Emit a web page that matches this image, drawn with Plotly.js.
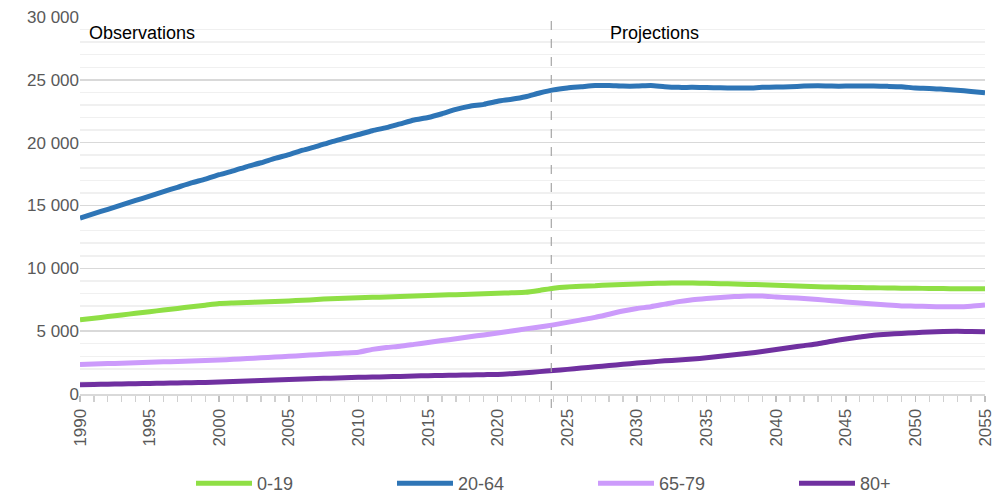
<!DOCTYPE html>
<html>
<head>
<meta charset="utf-8">
<script src="https://cdn.plot.ly/plotly-3.0.1.min.js"></script>
<style>html,body{margin:0;padding:0;background:#fff;}#chart{width:995px;height:498px;}</style>
</head>
<body>
<div id="chart"></div>
<script>
const years = [1990,1991,1992,1993,1994,1995,1996,1997,1998,1999,2000,2001,2002,2003,2004,2005,2006,2007,2008,2009,2010,2011,2012,2013,2014,2015,2016,2017,2018,2019,2020,2021,2022,2023,2024,2025,2026,2027,2028,2029,2030,2031,2032,2033,2034,2035,2036,2037,2038,2039,2040,2041,2042,2043,2044,2045,2046,2047,2048,2049,2050,2051,2052,2053,2054,2055];

const age0_19 = [5900,6030,6160,6290,6420,6550,6680,6810,6940,7070,7200,7250,7290,7330,7370,7410,7460,7520,7580,7620,7660,7690,7720,7760,7800,7830,7880,7900,7930,7980,8020,8050,8090,8240,8420,8520,8570,8610,8680,8720,8750,8790,8820,8840,8830,8810,8780,8750,8720,8690,8650,8610,8570,8530,8510,8490,8470,8450,8440,8420,8410,8400,8390,8380,8380,8380];

const age20_64 = [14000,14350,14700,15050,15400,15750,16100,16450,16800,17100,17450,17750,18100,18400,18750,19050,19400,19700,20050,20350,20650,20950,21200,21500,21800,22000,22300,22650,22900,23050,23300,23450,23650,23950,24200,24350,24450,24550,24550,24500,24500,24550,24450,24400,24400,24380,24370,24350,24350,24400,24420,24450,24500,24520,24500,24500,24500,24500,24480,24450,24350,24320,24250,24180,24080,23970];

const age65_79 = [2350,2380,2420,2450,2490,2520,2560,2590,2630,2660,2700,2760,2820,2880,2940,3000,3060,3130,3200,3260,3330,3550,3700,3800,3950,4100,4250,4400,4560,4700,4850,5020,5180,5330,5500,5700,5900,6100,6350,6600,6800,6950,7150,7350,7500,7600,7680,7750,7800,7800,7720,7660,7600,7520,7420,7330,7250,7170,7080,7010,6990,6960,6940,6940,6990,7080];

const age80plus = [740,760,780,800,820,840,860,880,900,920,950,990,1030,1070,1110,1150,1190,1230,1260,1300,1330,1350,1370,1400,1430,1460,1480,1500,1520,1540,1560,1620,1700,1780,1870,1960,2060,2170,2260,2360,2460,2550,2640,2700,2780,2880,3000,3120,3240,3380,3540,3700,3850,4000,4200,4380,4530,4670,4760,4820,4880,4930,4980,5000,4980,4950];

const seriesNames = ['0-19','20-64','65-79','80+'];
const seriesColors = ['#8fdf45','#2e75b6','#cc9bfb','#7030a0'];
const seriesValues = [age0_19, age20_64, age65_79, age80plus];
const splitYear = 2023.85;
const periodLabels = ['Observations','Projections'];

const traces = seriesValues.map((v,i)=>({
  x: years, y: v, name: seriesNames[i], type:'scatter', mode:'lines',
  line:{color: seriesColors[i], width:5, shape:'spline', smoothing:0.6},
  hoverinfo:'x+y+name'
}));

const layout = {
  width:995, height:498,
  margin:{l:80, r:10, t:17, b:104},
  paper_bgcolor:'#fff', plot_bgcolor:'#fff',
  font:{family:'Liberation Sans, Arial, sans-serif', color:'#595959', size:17},
  separators:', ',
  showlegend:true,
  legend:{orientation:'h', x:0.183, xanchor:'left', yref:'container', y:0.029, yanchor:'middle',
    font:{family:'Liberation Sans, Arial, sans-serif', size:18, color:'#595959'},
    entrywidth:130, entrywidthmode:'pixels', itemwidth:56, tracegroupgap:0},
  xaxis:{range:[1990,2055], tick0:1990, dtick:5, tickangle:-90, automargin:false,
    ticks:'outside', ticklen:6, tickcolor:'#bfbfbf', tickwidth:1.5,
    showline:true, linecolor:'#d9d9d9', linewidth:2, showgrid:false, zeroline:false,
    tickfont:{size:17, color:'#595959'},
    minor:{dtick:1, tick0:1990, ticks:'outside', ticklen:6, tickcolor:'#d0d0d0', tickwidth:1.2, showgrid:false}},
  yaxis:{range:[0,30000], dtick:5000, tickformat:',d', showgrid:true, gridcolor:'#d9d9d9', gridwidth:1.5,
    automargin:false, zeroline:false, showline:false, ticks:'', tickfont:{size:17, color:'#595959'},
    minor:{dtick:1000, showgrid:true, gridcolor:'#f0f0f0', gridwidth:1.5}},
  shapes:[{type:'line', xref:'x', yref:'paper', x0:splitYear, x1:splitYear, y0:-0.037, y1:1.013,
    line:{color:'#a6a6a6', width:1.2, dash:'dash'}}],
  annotations:[
    {text:periodLabels[0], xref:'x', yref:'y', x:1990.5, y:28750, xanchor:'left', yanchor:'middle', showarrow:false,
      font:{size:18, color:'#000'}},
    {text:periodLabels[1], xref:'x', yref:'y', x:2027.9, y:28750, xanchor:'left', yanchor:'middle', showarrow:false,
      font:{size:18, color:'#000'}}
  ]
};
Plotly.newPlot('chart', traces, layout, {displayModeBar:false, staticPlot:true});
</script>
</body>
</html>
